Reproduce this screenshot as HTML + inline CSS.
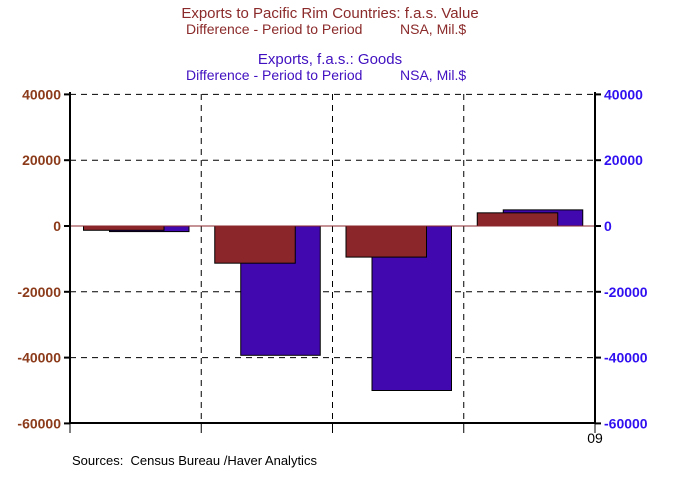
<!DOCTYPE html>
<html><head><meta charset="utf-8"><style>
body{margin:0;background:#fff;width:674px;height:472px;overflow:hidden;font-family:"Liberation Sans",Arial,sans-serif}
</style></head><body>
<svg id="chart" width="674" height="472" xmlns="http://www.w3.org/2000/svg" font-family="Liberation Sans, Arial, sans-serif">
<g font-size="14">
<text x="330" y="18" fill="#8B2A2A" font-size="15" text-anchor="middle">Exports to Pacific Rim Countries: f.a.s. Value</text>
<text y="34" fill="#8B2A2A"><tspan x="186">Difference - Period to Period</tspan><tspan x="400">NSA, Mil.$</tspan></text>
<text x="330" y="64" fill="#4010C0" font-size="15" text-anchor="middle">Exports, f.a.s.: Goods</text>
<text y="80" fill="#4010C0"><tspan x="186">Difference - Period to Period</tspan><tspan x="400">NSA, Mil.$</tspan></text>
</g>
<g id="grid"></g>
<g id="bars"></g>
<g id="axes"></g>
<text x="595" y="443" font-size="14" text-anchor="middle">09</text>
<text x="72" y="465" font-size="13" xml:space="preserve">Sources:  Census Bureau /Haver Analytics</text>
</svg>
<script>
const categories=['Q1','Q2','Q3','Q4'];
const pacificRim=[-1300,-11300,-9450,4000];
const goods=[-1700,-39300,-50000,4900];
const ticks=[40000,20000,0,-20000,-40000,-60000];
const NS='http://www.w3.org/2000/svg';
const L=70,R=595,T=94,B=423;
const y=v=>226-(v/10000)*32.9;
const cw=(R-L)/categories.length;
const x=i=>L+i*cw;
function el(t,a,p){const e=document.createElementNS(NS,t);for(const k in a)e.setAttribute(k,a[k]);p.appendChild(e);return e;}
const grid=document.getElementById('grid'),bars=document.getElementById('bars'),axes=document.getElementById('axes');
ticks.forEach(t=>{if(t===0||t===-60000)return;
 const g=el('line',{x1:L,x2:R,y1:y(t),y2:y(t),stroke:'#000','stroke-dasharray':'6,5'},grid);
 
 });
for(let i=1;i<categories.length;i++){
 const g=el('line',{x1:x(i),x2:x(i),y1:T,y2:B,stroke:'#000','stroke-dasharray':'6,5'},grid);
 
 }
categories.forEach((c,i)=>{
 const gv=goods[i],gy=Math.min(y(gv),y(0));
 const b=el('rect',{x:x(i)+39.5,y:gy,width:79.5,height:Math.abs(y(gv)-y(0)),fill:'#4208B0',stroke:'#000','stroke-width':1},bars);
 
 
 const pv=pacificRim[i],py=Math.min(y(pv),y(0));
 const r=el('rect',{x:x(i)+13.5,y:py,width:80.5,height:Math.abs(y(pv)-y(0)),fill:'#8B262B',stroke:'#000','stroke-width':1},bars);
 
 });
const z=el('line',{x1:L,x2:R,y1:y(0),y2:y(0),stroke:'#8B262B','stroke-width':1},bars);


[[L,'left-axis'],[R,'right-axis']].forEach(([ax,n])=>{
 const a=el('line',{x1:ax,x2:ax,y1:T-2,y2:B,stroke:'#000','stroke-width':2},axes);
 
 });
const xa=el('line',{x1:L-1,x2:R+1,y1:B,y2:B,stroke:'#000','stroke-width':2},axes);


for(let i=0;i<=categories.length;i++){
 const t=el('line',{x1:x(i),x2:x(i),y1:B,y2:B+10,stroke:'#000'},axes);
 
 }
ticks.forEach(t=>{
 const l=el('line',{x1:L-6,x2:L,y1:y(t),y2:y(t),stroke:'#000','stroke-width':2},axes);
 
 
 const r=el('line',{x1:R,x2:R+6,y1:y(t),y2:y(t),stroke:'#000','stroke-width':2},axes);
 
 
 const tl=el('text',{x:L-9,y:y(t)+5,'text-anchor':'end','font-size':14,fill:'#8B3A1A','font-weight':'600'},axes);
 tl.textContent=t;
 
 
 const tr=el('text',{x:R+9,y:y(t)+5,'font-size':14,fill:'#3010F0','font-weight':'600'},axes);
 tr.textContent=t;
 
 });
</script>
</body></html>
